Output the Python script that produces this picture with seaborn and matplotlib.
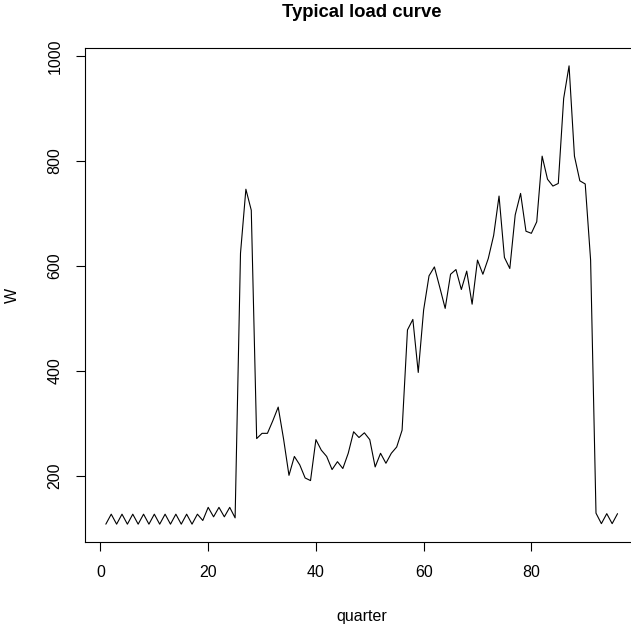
import numpy as np
import pandas as pd
import matplotlib
matplotlib.use("Agg")
import matplotlib.pyplot as plt
import seaborn as sns

# Load per quarter-hour (96 quarters in a day)
quarter = list(range(1, 97))
load = [
    108, 127, 108, 127, 108, 127, 108, 127, 108, 127,
    108, 127, 108, 127, 108, 127, 108, 127, 115, 140,
    122, 140, 122, 140, 120, 624, 746, 706, 271, 281,
    281, 305, 331, 270, 201, 237, 221, 196, 191, 269,
    249, 237, 212, 227, 214, 243, 284, 273, 282, 269,
    217, 243, 224, 243, 255, 287, 478, 498, 397, 516,
    581, 598, 559, 519, 584, 593, 555, 590, 527, 611,
    584, 614, 658, 733, 616, 595, 697, 738, 666, 662,
    684, 809, 765, 752, 757, 919, 981, 809, 762, 756,
    611, 129, 109, 128, 109, 128,
]
x_ticks = [0, 20, 40, 60, 80]
y_ticks = [200, 400, 600, 800, 1000]

df = pd.DataFrame({"quarter": quarter, "W": load})

sns.set_style("ticks")
plt.rcParams["font.family"] = ["Liberation Sans", "DejaVu Sans"]
plt.rcParams["text.color"] = "black"
plt.rcParams["axes.labelcolor"] = "black"
plt.rcParams["xtick.color"] = "black"
plt.rcParams["ytick.color"] = "black"

fig = plt.figure(figsize=(6.31, 6.26), dpi=100)
# R-style plot region; the right edge runs past the figure, as in the reference
ax = fig.add_axes([0.1353, 0.1334, 0.8758, 0.7907])

sns.lineplot(data=df, x="quarter", y="W", color="black", linewidth=0.8, ax=ax)

# R's default 4% padding of the data range
xr = max(quarter) - min(quarter)
yr = max(load) - min(load)
ax.set_xlim(min(quarter) - 0.04 * xr, max(quarter) + 0.04 * xr)
ax.set_ylim(min(load) - 0.04 * yr, max(load) + 0.04 * yr)

ax.set_xticks(x_ticks)
ax.set_yticks(y_ticks)
ax.tick_params(axis="both", length=6.3, width=0.8, color="black",
               labelcolor="black", labelsize=11.5, pad=10)
for lab in ax.get_yticklabels():
    lab.set_rotation(90)
    lab.set_va("center")

for side in ["left", "right", "top", "bottom"]:
    ax.spines[side].set_visible(True)
    ax.spines[side].set_color("black")
    ax.spines[side].set_linewidth(0.8)

ax.set_xlabel("quarter", fontsize=11.5, color="black")
ax.set_ylabel("W", fontsize=11.5, color="black")
ax.xaxis.set_label_coords(0.5, -0.134)
ax.yaxis.set_label_coords(-0.118, 0.5)
ax.set_title("Typical load curve", fontsize=13.3, fontweight="bold",
             color="black", y=1.0616, pad=0)

fig.savefig("out.png", dpi=100)
